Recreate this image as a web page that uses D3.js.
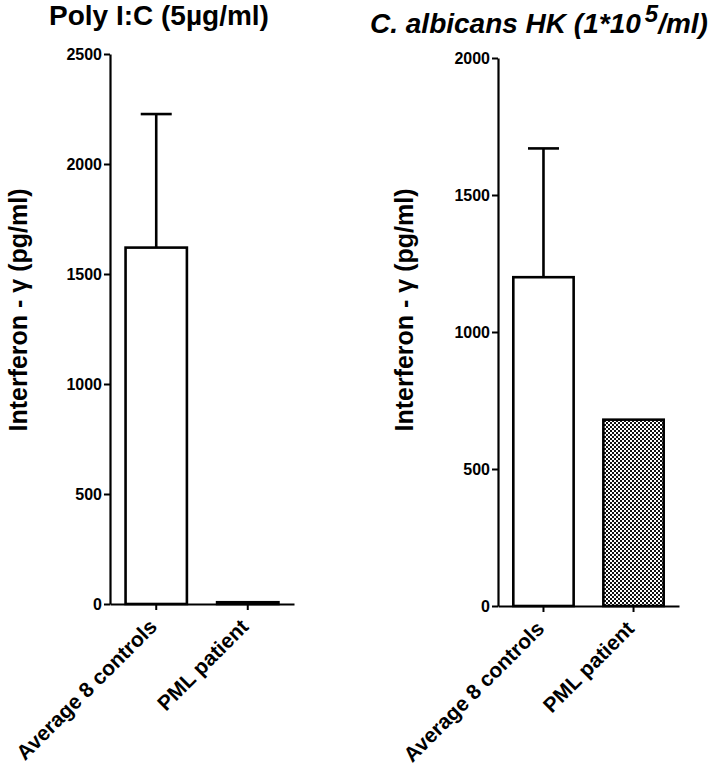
<!DOCTYPE html>
<html>
<head>
<meta charset="utf-8">
<script src="https://cdn.jsdelivr.net/npm/d3@7"></script>
<style>
  body { margin: 0; background: #fff; }
  svg { display: block; font-family: "Liberation Sans", Arial, sans-serif; }
</style>
</head>
<body>
<svg></svg>
<script>
var width = 709;
var height = 765;
var svg = d3.select("svg").attr("width", width).attr("height", height);

// data
var categories = ["Average 8 controls", "PML patient"];
var polyMeans = [1620, 8];
var polyErr = [607, 0];
var polyTicks = [0, 500, 1000, 1500, 2000, 2500];
var candMeans = [1200, 680];
var candErr = [470, 0];
var candTicks = [0, 500, 1000, 1500, 2000];
var yLabel = "Interferon - \u03b3 (pg/ml)";

// checker fill for the patient bar
var defs = svg.append("defs");
var pat = defs.append("pattern").attr("id", "checks")
  .attr("patternUnits", "userSpaceOnUse").attr("width", 4).attr("height", 4);
pat.append("rect").attr("width", 4).attr("height", 4).attr("fill", "#fff");
pat.append("rect").attr("width", 2).attr("height", 2).attr("fill", "#111");
pat.append("rect").attr("x", 2).attr("y", 2).attr("width", 2).attr("height", 2).attr("fill", "#111");

function panel(opt) {
  var g = svg.append("g");

  var x = d3.scaleBand().domain(categories)
    .range(opt.xRange).paddingInner(0.33).paddingOuter(0.17);
  var y = d3.scaleLinear().domain(opt.yDomain).range(opt.yRange);

  // bars
  g.selectAll("rect.bar").data(opt.means).enter().append("rect")
    .attr("class", "bar")
    .attr("x", function(d, i) { return x(categories[i]); })
    .attr("width", x.bandwidth())
    .attr("y", function(d) { return y(d); })
    .attr("height", function(d) { return y(0) - y(d); })
    .attr("fill", function(d, i) { return opt.fills[i]; })
    .attr("stroke", "#000")
    .attr("stroke-width", 2.6);

  // error bars (upper only)
  opt.means.forEach(function(m, i) {
    if (!opt.err[i]) return;
    var cx = x(categories[i]) + x.bandwidth() / 2;
    g.append("line").attr("x1", cx).attr("x2", cx)
      .attr("y1", y(m)).attr("y2", y(m + opt.err[i]))
      .attr("stroke", "#000").attr("stroke-width", 2.6);
    g.append("line").attr("x1", cx - 15.5).attr("x2", cx + 15.5)
      .attr("y1", y(m + opt.err[i])).attr("y2", y(m + opt.err[i]))
      .attr("stroke", "#000").attr("stroke-width", 2.6);
  });

  // y axis
  var ya = g.append("g")
    .attr("transform", "translate(" + opt.xRange[0] + ",0)")
    .call(d3.axisLeft(y).tickValues(opt.ticks).tickFormat(d3.format("d"))
      .tickSize(6).tickPadding(2).tickSizeOuter(0));
  ya.select(".domain").attr("stroke-width", 2.2);
  ya.selectAll(".tick line").attr("stroke-width", 2);
  ya.selectAll("text").attr("font-size", 16).attr("font-weight", "bold")
    .attr("font-family", "Liberation Sans, Arial, sans-serif").attr("fill", "#000");

  // x axis
  var xa = g.append("g")
    .attr("transform", "translate(0," + y(0) + ")")
    .call(d3.axisBottom(x).tickSize(6).tickSizeOuter(0).tickFormat(""));
  xa.select(".domain").attr("stroke-width", 2.2);
  xa.selectAll(".tick line").attr("stroke-width", 2);

  // rotated category labels
  g.selectAll("text.cat").data(categories).enter().append("text")
    .attr("class", "cat")
    .attr("text-anchor", "end")
    .attr("font-size", 21).attr("font-weight", "bold")
    .attr("transform", function(d) {
      return "translate(" + (x(d) + x.bandwidth() / 2 + 2) + "," + (y(0) + 24) + ") rotate(-45)";
    })
    .text(function(d) { return d; });

  // y label
  g.append("text")
    .attr("transform", "translate(" + opt.labelX + ",310) rotate(-90)")
    .attr("text-anchor", "middle")
    .attr("font-size", 25).attr("font-weight", "bold")
    .text(yLabel);

  return g;
}

panel({
  xRange: [110, 294], yDomain: [0, 2500], yRange: [604, 54],
  means: polyMeans, err: polyErr, ticks: polyTicks,
  fills: ["#fff", "#fff"], labelX: 27
});

panel({
  xRange: [498, 679], yDomain: [0, 2000], yRange: [606, 58],
  means: candMeans, err: candErr, ticks: candTicks,
  fills: ["#fff", "url(#checks)"], labelX: 413
});

// titles
svg.append("text").attr("x", 49).attr("y", 25)
  .attr("font-size", 28).attr("font-weight", "bold")
  .text("Poly I:C (5\u00b5g/ml)");

var t2 = svg.append("text").attr("x", 370).attr("y", 33)
  .attr("font-size", 28).attr("font-weight", "bold").attr("font-style", "italic");
t2.append("tspan").text("C. albicans HK (1*10");
t2.append("tspan").attr("dx", 4).attr("dy", -11).attr("font-size", 24).text("5");
t2.append("tspan").attr("dy", 11).text("/ml)");
</script>
</body>
</html>
